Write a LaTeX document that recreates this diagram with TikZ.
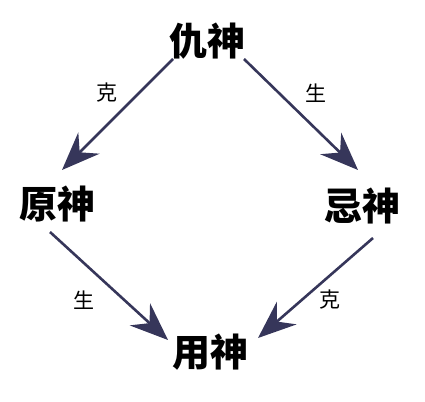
\documentclass[tikz,border=0pt]{standalone}
\usepackage{fontspec}
\newfontfamily\cjk{Noto Sans CJK SC}
\usetikzlibrary{arrows.meta}
\definecolor{arrowc}{HTML}{36365A}
\tikzset{
  god/.style={font=\cjk\bfseries\fontsize{38}{38}\selectfont, inner sep=0pt, text=black},
  rel/.style={font=\cjk\fontsize{21}{21}\selectfont, inner sep=0pt, text=black},
  arr/.style={draw=arrowc, line width=2.6pt, -{Stealth[length=38pt, width=30pt, inset=13pt, fill=arrowc]}}
}
\begin{document}
\begin{tikzpicture}[x=1pt,y=-1pt]
\useasboundingbox (0,0) rectangle (425,401);
\node[god] (q) at (207,41) {仇神};
\node[god] (y) at (57,204) {原神};
\node[god] (j) at (362,206) {忌神};
\node[god] (u) at (210,352) {用神};
\node[rel] (l1) at (107,93) {克};
\node[rel] (l2) at (316,93) {生};
\node[rel] (l3) at (84,300) {生};
\node[rel] (l4) at (330,300) {克};
\coordinate (qa) at (173,59);
\coordinate (qb) at (244,59);
\coordinate (ya) at (62,170);
\coordinate (ja) at (358,170);
\coordinate (yb) at (50,232);
\coordinate (jb) at (373,238);
\coordinate (ua) at (168,340);
\coordinate (ub) at (258,338);
\draw[arr] (qa) -- (ya);
\draw[arr] (qb) -- (ja);
\draw[arr] (yb) -- (ua);
\draw[arr] (jb) -- (ub);
\end{tikzpicture}
\end{document}
